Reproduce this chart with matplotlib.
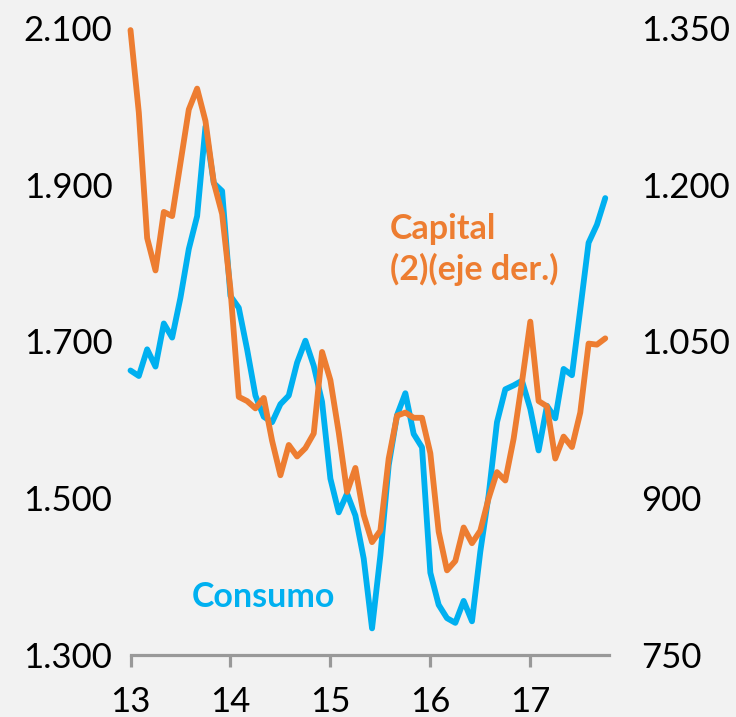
import numpy as np
import matplotlib.pyplot as plt
from matplotlib.ticker import FuncFormatter

# monthly series, Jan 2013 .. Oct 2017
consumo = [1663, 1656, 1690, 1668, 1723, 1705, 1756, 1818, 1860, 1974, 1902, 1892,
           1758, 1743, 1690, 1631, 1604, 1597, 1620, 1631, 1673, 1701, 1669, 1623,
           1525, 1482, 1506, 1478, 1423, 1334, 1427, 1542, 1606, 1634, 1582, 1565,
           1405, 1364, 1347, 1341, 1369, 1343, 1432, 1504, 1597, 1639, 1644, 1650,
           1614, 1561, 1618, 1602, 1665, 1657, 1741, 1826, 1849, 1883]
capital = [1348, 1269, 1149, 1118, 1174, 1170, 1221, 1272, 1292, 1261, 1202, 1172,
           1100, 997, 993, 986, 996, 955, 922, 951, 940, 948, 962, 1040,
           1013, 963, 906, 929, 884, 858, 869, 938, 979, 982, 977, 977,
           943, 868, 831, 840, 872, 857, 869, 900, 925, 917, 957, 1011,
           1069, 993, 988, 938, 959, 949, 982, 1048, 1047, 1053]
year_ticks = [0, 12, 24, 36, 48]
year_labels = ["13", "14", "15", "16", "17"]
left_ticks = [1300, 1500, 1700, 1900, 2100]
right_ticks = [750, 900, 1050, 1200, 1350]

BLUE = "#00B0F0"
ORANGE = "#ED7D31"
BG = "#F2F2F2"
GREY = "#999999"

plt.rcParams['font.family'] = ['Lato', 'DejaVu Sans']


def miles(v, pos=None):
    """thousands with a dot, spanish style"""
    return f"{int(v):,}".replace(",", ".")


W, H = 736, 717
fig = plt.figure(figsize=(W / 100, H / 100), dpi=100, facecolor=BG)
ax = fig.add_axes([130.5 / W, 1 - 655 / H, (609 - 130.5) / W, (655 - 28) / H])
ax.set_facecolor(BG)
ax2 = ax.twinx()

x = np.arange(len(consumo))
line_kw = dict(lw=4.2, solid_joinstyle='round', solid_capstyle='round', clip_on=False)
ax.plot(x, consumo, color=BLUE, **line_kw)
ax2.plot(x, capital, color=ORANGE, **line_kw)

ax.set_xlim(0, 57.45)
ax.set_ylim(1300, 2100)
ax2.set_ylim(750, 1350)

ax.set_yticks(left_ticks)
ax2.set_yticks(right_ticks)
ax.yaxis.set_major_formatter(FuncFormatter(miles))
ax2.yaxis.set_major_formatter(FuncFormatter(miles))
ax.set_xticks(year_ticks)
ax.set_xticklabels(year_labels)

for a in (ax, ax2):
    for s in a.spines.values():
        s.set_visible(False)
ax.spines['bottom'].set_visible(True)
ax.spines['bottom'].set_color(GREY)
ax.spines['bottom'].set_linewidth(2.3)

ax.tick_params(axis='x', direction='out', length=8.5, width=2.3, color=GREY,
               labelsize=25, pad=14)
ax.tick_params(axis='y', length=0, labelsize=25, pad=13)
ax2.tick_params(axis='y', length=0, labelsize=25, pad=23)

fig.text(390 / W, 1 - 213 / H, "Capital\n(2)(eje der.)", color=ORANGE,
         fontsize=24.5, fontweight='bold', ha='left', va='top', linespacing=1.3)
fig.text(192 / W, 1 - 597 / H, "Consumo", color=BLUE,
         fontsize=24.5, fontweight='bold', ha='left', va='center')

fig.savefig("out.png", dpi=100, facecolor=BG)
